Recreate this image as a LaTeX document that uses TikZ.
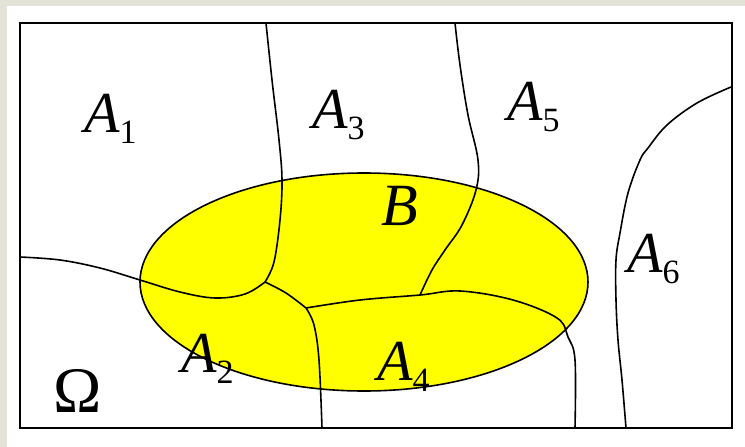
\documentclass[tikz,border=0pt]{standalone}
\usepackage{fontspec}
\setmainfont{Liberation Serif}
\definecolor{bgtex}{HTML}{E3E3D7}
\definecolor{setyellow}{HTML}{FFFF00}
\newcommand{\lab}[2]{{\fontsize{58}{58}\selectfont\itshape #1}\raisebox{-11pt}{\fontsize{34}{34}\selectfont #2}}
\tikzset{
  frameline/.style={line width=2pt, draw=black},
  regionline/.style={line width=1.6pt, draw=black},
  setB/.style={fill=setyellow, draw=black, line width=1.6pt},
  lbl/.style={anchor=base west, inner sep=0pt}
}
\begin{document}
\begin{tikzpicture}[x=1pt,y=-1pt]
\fill[bgtex] (0,0) rectangle (745,447);
\fill[white] (7,6) rectangle (745,447);
\useasboundingbox (0,0) rectangle (745,447);
% set B
\path[setB] (364,282) ellipse [x radius=224, y radius=109];
% region boundaries
\draw[regionline] plot[smooth, tension=0.6] coordinates {(266,23) (272,80) (279,140) (282,180) (280,220) (274,262) (265,282)};
\draw[regionline] plot[smooth, tension=0.6] coordinates {(20,257) (60,260) (100,268) (140,280) (180,292) (215,298) (245,294) (265,282)};
\draw[regionline] plot[smooth, tension=0.6] coordinates {(265,282) (286,293) (306,308)};
\draw[regionline] plot[smooth, tension=0.6] coordinates {(306,308) (314,325) (319,360) (322,428)};
\draw[regionline] plot[smooth, tension=0.6] coordinates {(306,308) (360,300) (420,295) (460,291) (513,300) (557,318) (568,337) (575,360) (575,428)};
\draw[regionline] plot[smooth, tension=0.6] coordinates {(455,23) (460,65) (468,115) (478,160) (476,190) (462,225) (445,250) (432,270) (420,295)};
\draw[regionline] plot[smooth, tension=0.6] coordinates {(731,87) (697,103) (667,125) (648,148) (640,160) (628,193) (620,233) (616,260) (616,300) (618,340) (622,380) (626,428)};
% frame
\draw[frameline] (20,23) rectangle (732,428);
% labels
\node[lbl] (a1) at (84,132) {\lab{A}{1}};
\node[lbl] (a3) at (312,128) {\lab{A}{3}};
\node[lbl] (a5) at (507,120) {\lab{A}{5}};
\node[lbl] (a6) at (627,272) {\lab{A}{6}};
\node[lbl] (a2) at (181,372) {\lab{A}{2}};
\node[lbl] (a4) at (377,380) {\lab{A}{4}};
\node[lbl] (b) at (381,225) {\fontsize{60}{60}\selectfont\itshape B};
\node[lbl] (om) at (53,412) {\fontsize{65}{65}\selectfont Ω};
\end{tikzpicture}
\end{document}
